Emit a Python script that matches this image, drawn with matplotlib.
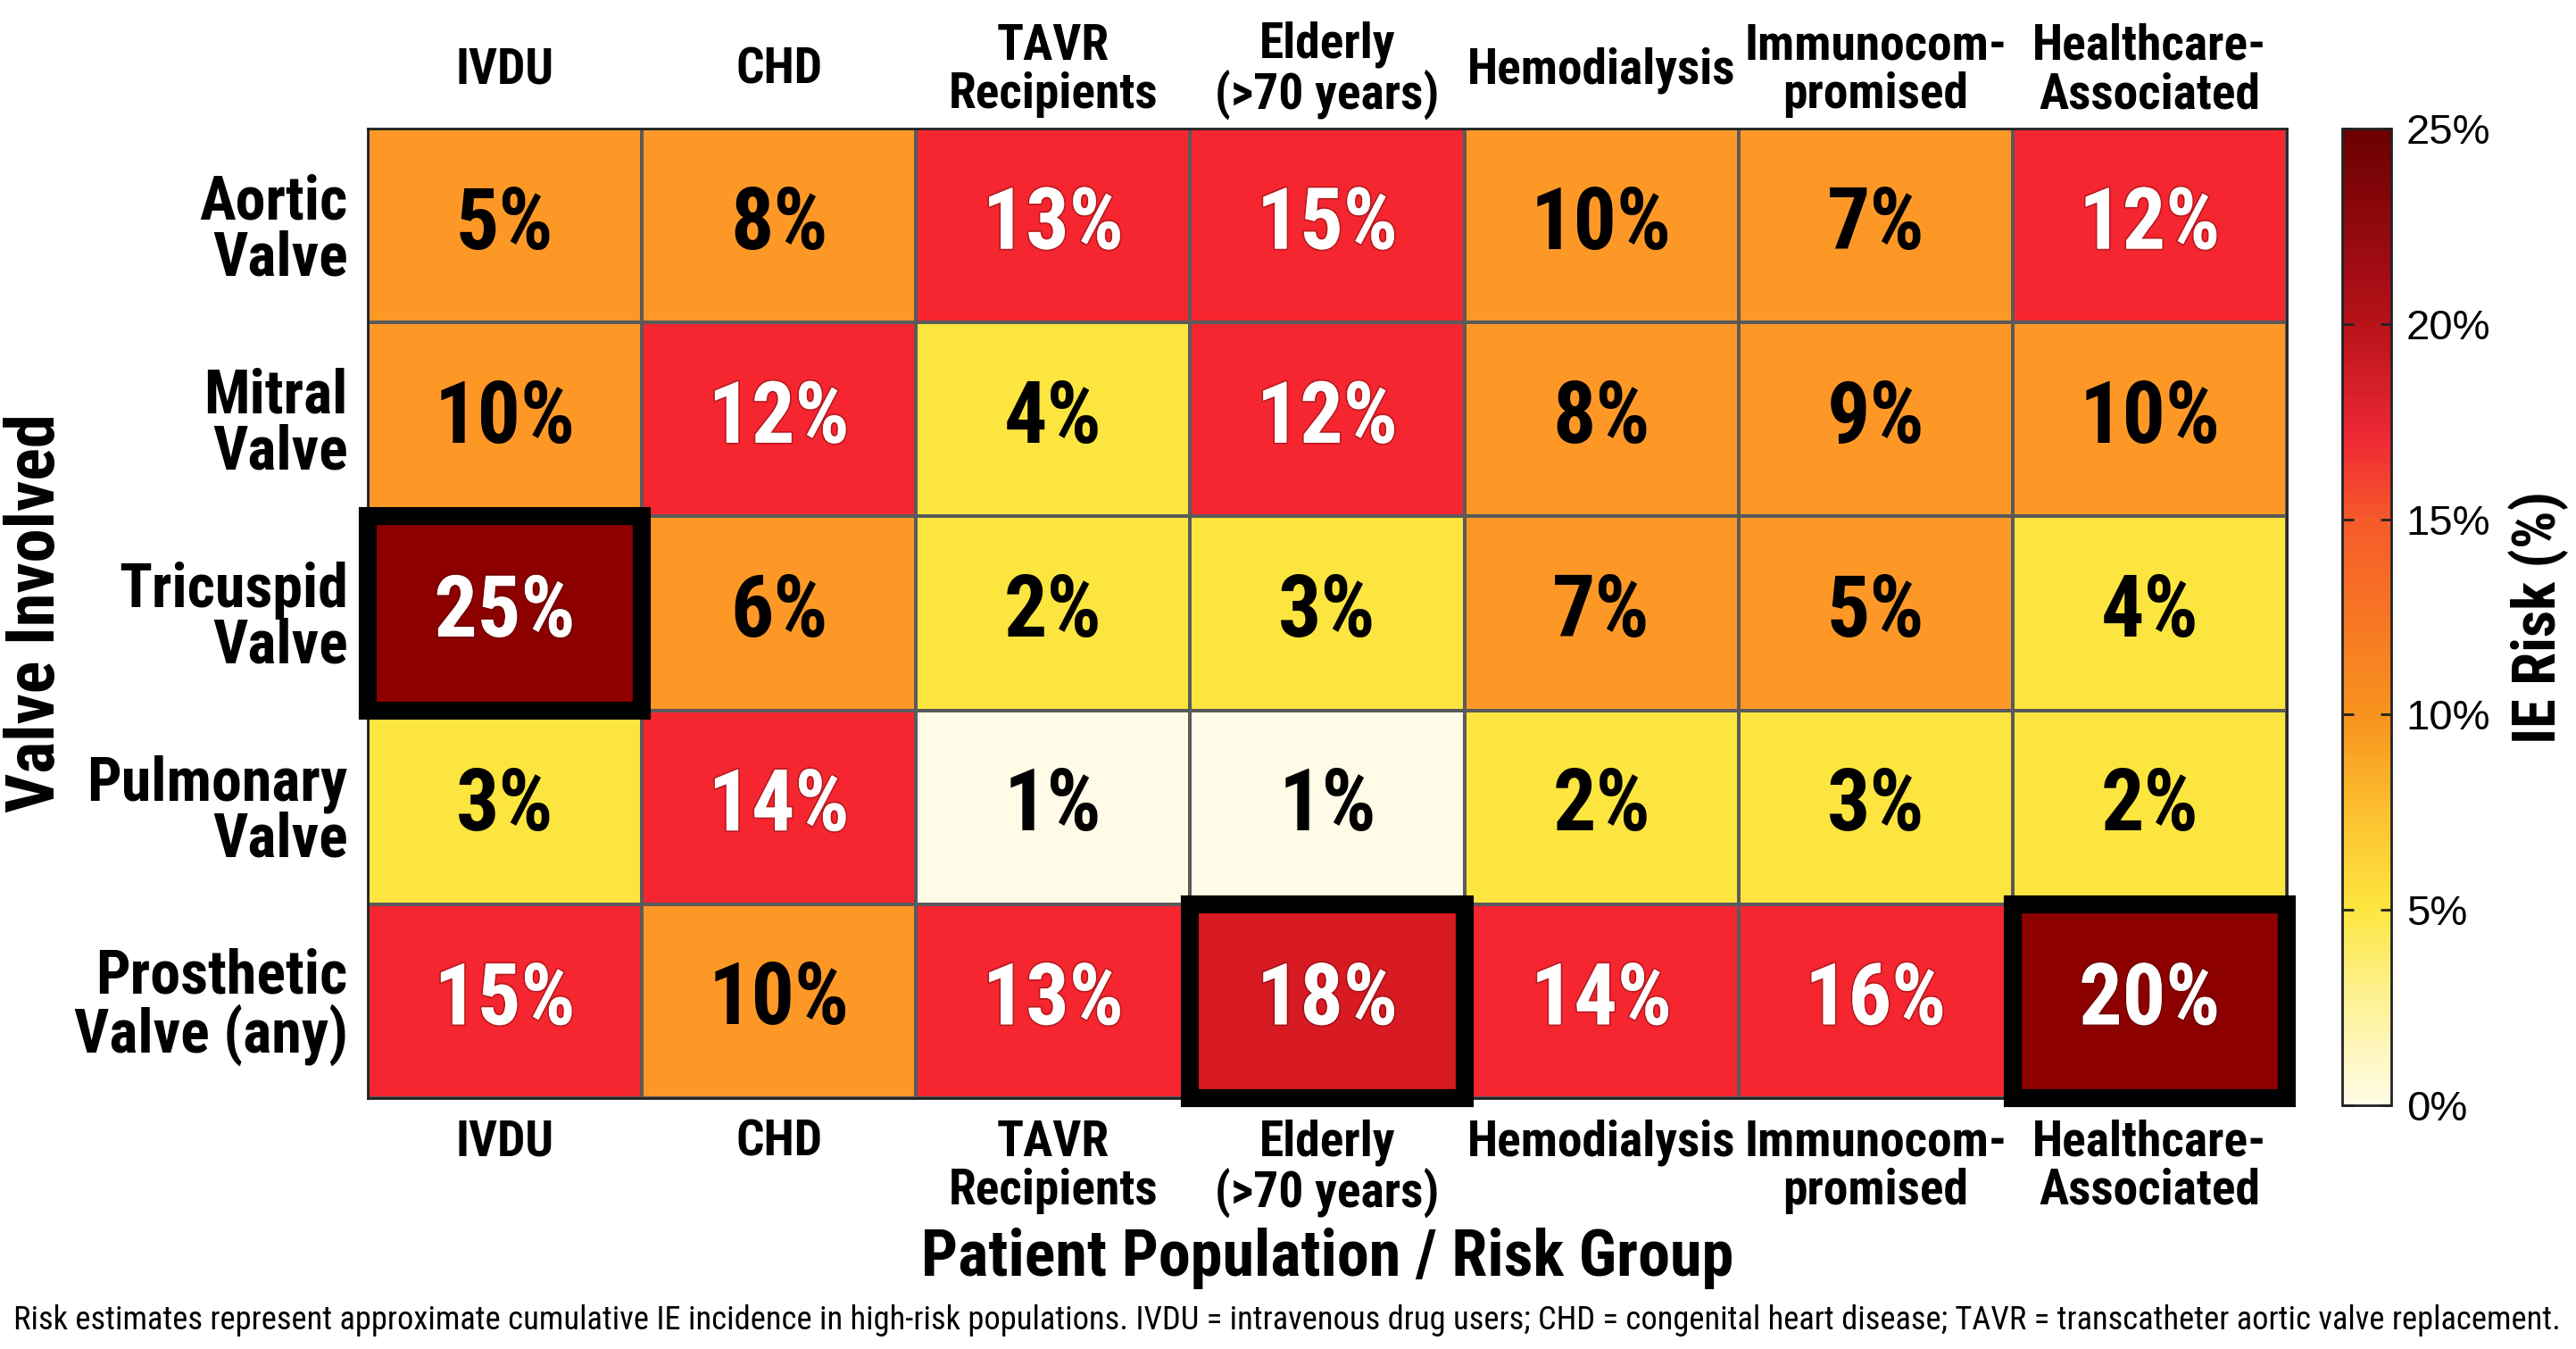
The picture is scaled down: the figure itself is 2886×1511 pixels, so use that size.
import matplotlib
matplotlib.use("Agg")
import matplotlib.pyplot as plt
import numpy as np
from matplotlib.colors import ListedColormap, BoundaryNorm, LinearSegmentedColormap, Normalize
from matplotlib.patches import Rectangle
import matplotlib.patheffects as pe
import matplotlib.cm as cm

# ---- data ----
valves = ["Aortic\nValve", "Mitral\nValve", "Tricuspid\nValve", "Pulmonary\nValve", "Prosthetic\nValve (any)"]
groups = ["IVDU", "CHD", "TAVR\nRecipients", "Elderly\n(>70 years)", "Hemodialysis",
          "Immunocom-\npromised", "Healthcare-\nAssociated"]
aortic = [5, 8, 13, 15, 10, 7, 12]
mitral = [10, 12, 4, 12, 8, 9, 10]
tricuspid = [25, 6, 2, 3, 7, 5, 4]
pulmonary = [3, 14, 1, 1, 2, 3, 2]
prosthetic = [15, 10, 13, 18, 14, 16, 20]
cbar_ticks = [0, 5, 10, 15, 20, 25]
footnote = ("Risk estimates represent approximate cumulative IE incidence in high-risk populations. "
            "IVDU = intravenous drug users; CHD = congenital heart disease; TAVR = transcatheter aortic valve replacement.")

risk = np.array([aortic, mitral, tricuspid, pulmonary, prosthetic], dtype=float)

NARROW = ["Roboto Condensed", "DejaVu Sans"]
REG = ["Liberation Sans", "DejaVu Sans"]

W, H = 2886, 1511
fig = plt.figure(figsize=(W / 100, H / 100), dpi=100)

ax_l, ax_r, ax_t, ax_b = 412, 2562, 144, 1230
ax = fig.add_axes([ax_l / W, 1 - ax_b / H, (ax_r - ax_l) / W, (ax_b - ax_t) / H])

# discrete colors for cells
cell_colors = ["#fffbe6", "#fde540", "#fd9827", "#f5262f", "#d81a22", "#8c0000"]
bounds = [0, 1.5, 4.5, 11, 17, 19, 26]
cmap_cells = ListedColormap(cell_colors)
norm_cells = BoundaryNorm(bounds, cmap_cells.N)

nrows, ncols = risk.shape
ax.pcolormesh(np.arange(ncols + 1), np.arange(nrows + 1), risk, cmap=cmap_cells, norm=norm_cells,
              edgecolors="#5a5a5a", linewidth=1.5)
ax.set_xlim(0, ncols)
ax.set_ylim(nrows, 0)

for r in range(nrows):
    for c in range(ncols):
        v = risk[r, c]
        white = v >= 11
        t = ax.text(c + 0.5, r + 0.5, f"{v:.0f}%", ha="center", va="center",
                    color="white" if white else "black",
                    fontsize=69, fontweight="bold", family=NARROW)
        if white:
            t.set_path_effects([pe.withStroke(linewidth=2.5, foreground=(0.3, 0, 0, 0.35))])

# highlight top 3
flat = np.argsort(risk, axis=None)[::-1][:3]
for idx in flat:
    r, c = np.unravel_index(idx, risk.shape)
    ax.add_patch(Rectangle((c, r), 1, 1, fill=False, edgecolor="black", linewidth=14.5,
                           clip_on=False, zorder=5))

# axes ticks
ax.set_xticks(np.arange(ncols) + 0.5)
ax.set_xticklabels(groups, fontsize=40, fontweight="bold", family=NARROW, linespacing=1.05)
ax.set_yticks(np.arange(nrows) + 0.5)
ax.set_yticklabels(valves, fontsize=49, fontweight="bold", family=NARROW, linespacing=0.95,
                   ha="right", multialignment="right")
ax.tick_params(axis="both", length=0)
ax.tick_params(axis="x", pad=17)
ax.tick_params(axis="y", pad=16)
for lab in ax.get_xticklabels():
    lab.set_va("top")
for g, x in zip(groups, np.arange(ncols) + 0.5):
    ax.text(x, 1 + 65 / (ax_b - ax_t), g, transform=ax.get_xaxis_transform(), ha="center", va="center",
            fontsize=40, fontweight="bold", family=NARROW, linespacing=1.05)

for s in ax.spines.values():
    s.set_linewidth(2)
    s.set_color("#222222")

ax.set_xlabel("Patient Population / Risk Group", fontsize=52, fontweight="bold", family=NARROW, va="center")
ax.xaxis.set_label_coords(0.5, -(1409 - ax_b) / (ax_b - ax_t))
ax.set_ylabel("Valve Involved", fontsize=55, fontweight="bold", family=NARROW, va="center")
ax.yaxis.set_label_coords(-(ax_l - 40) / (ax_r - ax_l), 0.5)

# colorbar (continuous)
cb_l, cb_r, cb_t, cb_b = 2624, 2679, 144, 1238
cax = fig.add_axes([cb_l / W, 1 - cb_b / H, (cb_r - cb_l) / W, (cb_b - cb_t) / H])
grad = LinearSegmentedColormap.from_list("ie", [
    (0.0, "#fffbe6"), (0.1, "#fef29a"), (0.2, "#fde540"), (0.3, "#fcc030"), (0.4, "#f8921e"),
    (0.6, "#f55a2a"), (0.68, "#f02a35"), (0.8, "#b8121b"), (1.0, "#6a0000")])
sm = cm.ScalarMappable(norm=Normalize(0, 25), cmap=grad)
cb = fig.colorbar(sm, cax=cax, ticks=cbar_ticks)
cb.ax.set_yticklabels([f"{t}%" for t in cbar_ticks], fontsize=34, family=REG)
cb.ax.tick_params(direction="in", length=9, width=2, left=True, right=True, pad=12, color="#222222")
cb.outline.set_linewidth(2)
cb.outline.set_edgecolor("#222222")
cb.set_label("IE Risk (%)", fontsize=48, fontweight="bold", family=NARROW, va="center")
cb.ax.yaxis.set_label_coords((2844 - cb_l) / (cb_r - cb_l), 0.5)

fig.text(15 / W, 1 - 1479 / H, footnote, ha="left", va="center", fontsize=26.3, family=NARROW)

fig.savefig("out.png", dpi=100)
